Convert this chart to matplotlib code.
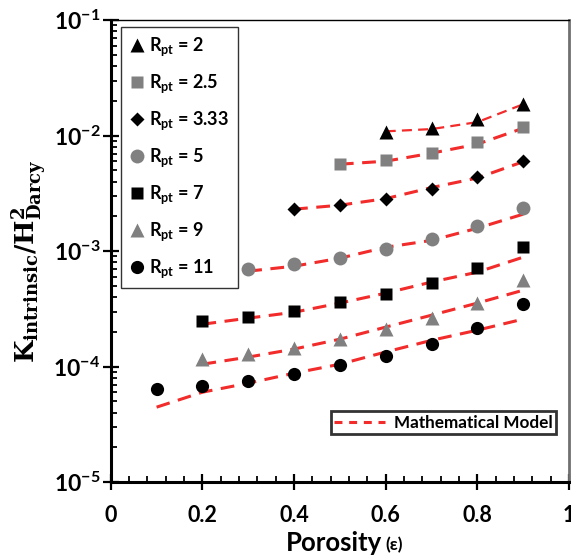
import numpy as np
import matplotlib.pyplot as plt
from matplotlib.lines import Line2D
from matplotlib.ticker import FixedLocator, LogLocator, NullFormatter

plt.rcParams['font.family'] = ['Lato', 'DejaVu Sans']
plt.rcParams['font.weight'] = 'bold'
plt.rcParams['mathtext.fontset'] = 'custom'
plt.rcParams['mathtext.rm'] = 'Lato:bold'
plt.rcParams['mathtext.it'] = 'Lato:bold'
plt.rcParams['mathtext.bf'] = 'DejaVu Serif:bold'

# Porosity values for each aspect ratio series
eps_2 = [0.6, 0.7, 0.8, 0.9]
eps_25 = [0.5, 0.6, 0.7, 0.8, 0.9]
eps_333 = [0.4, 0.5, 0.6, 0.7, 0.8, 0.9]
eps_5 = [0.3, 0.4, 0.5, 0.6, 0.7, 0.8, 0.9]
eps_7 = [0.2, 0.3, 0.4, 0.5, 0.6, 0.7, 0.8, 0.9]
eps_9 = [0.2, 0.3, 0.4, 0.5, 0.6, 0.7, 0.8, 0.9]
eps_11 = [0.1, 0.2, 0.3, 0.4, 0.5, 0.6, 0.7, 0.8, 0.9]

# Simulated K_intrinsic / H_Darcy^2
k_2 = [0.0107, 0.0116, 0.0139, 0.0187]
k_25 = [0.00566, 0.00614, 0.00705, 0.00879, 0.01186]
k_333 = [0.00231, 0.00250, 0.00282, 0.00344, 0.00437, 0.00601]
k_5 = [0.000698, 0.00077, 0.000869, 0.00104, 0.00127, 0.00164, 0.00236]
k_7 = [0.000248, 0.000268, 0.000303, 0.000362, 0.000424, 0.000528, 0.000713, 0.00108]
k_9 = [0.000116, 0.000128, 0.000145, 0.000173, 0.000211, 0.000263, 0.000355, 0.000561]
k_11 = [6.38e-5, 6.78e-5, 7.49e-5, 8.6e-5, 1.03e-4, 1.23e-4, 1.57e-4, 2.16e-4, 3.47e-4]

# Mathematical model at the same porosities
m_2 = [0.0109, 0.0114, 0.0131, 0.0187]
m_25 = [0.00566, 0.00601, 0.00705, 0.00844, 0.0116]
m_333 = [0.00231, 0.00250, 0.00285, 0.00355, 0.00430, 0.00595]
m_5 = [0.000671, 0.000741, 0.000869, 0.00108, 0.00124, 0.00158, 0.00209]
m_7 = [0.000233, 0.000263, 0.000296, 0.000355, 0.000433, 0.00054, 0.000658, 0.000887]
m_9 = [0.000105, 0.000121, 0.000142, 0.000173, 0.00022, 0.000279, 0.000355, 0.000459]
m_11 = [4.46e-5, 6.01e-5, 7.19e-5, 8.78e-5, 1.05e-4, 1.34e-4, 1.69e-4, 2.07e-4, 2.58e-4]

labels = ['2', '2.5', '3.33', '5', '7', '9', '11']

series = [
    (eps_2, k_2, m_2, '^', 'black', 10, 1.6),
    (eps_25, k_25, m_25, 's', 'gray', 9, 2.2),
    (eps_333, k_333, m_333, 'D', 'black', 7, 2.2),
    (eps_5, k_5, m_5, 'o', 'gray', 10, 2.2),
    (eps_7, k_7, m_7, 's', 'black', 9, 2.2),
    (eps_9, k_9, m_9, '^', 'gray', 10, 2.2),
    (eps_11, k_11, m_11, 'o', 'black', 9.5, 2.2),
]
red = '#f22b2b'

fig = plt.figure(figsize=(5.71, 5.6), dpi=100)
ax = fig.add_axes([0.194, 0.139, 0.8025, 0.825])

handles = []
for (x, k, m, mk, c, ms, lw), lab in zip(series, labels):
    ax.plot(x, m, color=red, lw=lw, dashes=(4.5, 2.8), zorder=2)
    ax.plot(x, k, ls='none', marker=mk, color=c, ms=ms, mec='none', zorder=3)
    handles.append(Line2D([], [], ls='none', marker=mk, color=c, ms=ms, mec='none',
                          label=r'$\mathrm{R_{pt}}$ = ' + lab))

ax.set_yscale('log')
ax.set_xlim(0, 1)
ax.set_ylim(1e-5, 1e-1)

ax.xaxis.set_major_locator(FixedLocator([0, 0.2, 0.4, 0.6, 0.8, 1.0]))
ax.xaxis.set_minor_locator(FixedLocator(np.arange(0, 1.001, 0.04)))
ax.set_xticklabels(['0', '0.2', '0.4', '0.6', '0.8', '1'])
ax.yaxis.set_major_locator(FixedLocator([1e-5, 1e-4, 1e-3, 1e-2, 1e-1]))
ax.yaxis.set_minor_locator(LogLocator(base=10, subs=np.arange(2, 10)))
ax.yaxis.set_minor_formatter(NullFormatter())
ax.set_yticklabels([r'$10^{-5}$', r'$10^{-4}$', r'$10^{-3}$', r'$10^{-2}$', r'$10^{-1}$'])

ax.tick_params(which='major', direction='inout', length=11, width=1.6)
ax.tick_params(which='minor', direction='in', length=4, width=1.3)
ax.tick_params(axis='x', which='major', pad=11, labelsize=15.5)
ax.tick_params(axis='y', which='major', pad=2, labelsize=16.5)

for s in ['left', 'bottom']:
    ax.spines[s].set_linewidth(2.2)
ax.spines['top'].set_linewidth(1.0)
ax.spines['right'].set_linewidth(2.0)
ax.spines['right'].set_color('#707070')

ax.set_ylabel(r'$\mathbf{K_{intrinsic}/H^{2}_{Darcy}}$', fontsize=18.5)
ax.yaxis.set_label_coords(-0.135, 0.478)
ax.text(0.592, -0.148, 'Porosity', transform=ax.transAxes, fontsize=18.5,
        ha='right', va='baseline')
ax.text(0.6, -0.148, '(ε)', transform=ax.transAxes, fontsize=12.5,
        ha='left', va='baseline')

leg1 = ax.legend(handles=handles, loc='upper left', bbox_to_anchor=(0.023, 0.985),
                 fontsize=13, frameon=True, fancybox=False, edgecolor='black',
                 handlelength=0.8, handletextpad=0.3, labelspacing=0.78,
                 borderpad=0.45, borderaxespad=0)
leg1.get_frame().set_linewidth(1.0)
ax.add_artist(leg1)

model_handle = Line2D([], [], color=red, lw=2.2, dashes=(2.6, 2.2))
leg2 = ax.legend(handles=[model_handle], labels=['Mathematical Model'],
                 loc='lower right', bbox_to_anchor=(0.9716, 0.104), fontsize=12.3,
                 frameon=True, fancybox=False, edgecolor='black',
                 handlelength=3.0, handletextpad=0.5, borderpad=0.2, borderaxespad=0)
leg2.get_frame().set_linewidth(2.0)

fig.savefig('out.png', dpi=100)
